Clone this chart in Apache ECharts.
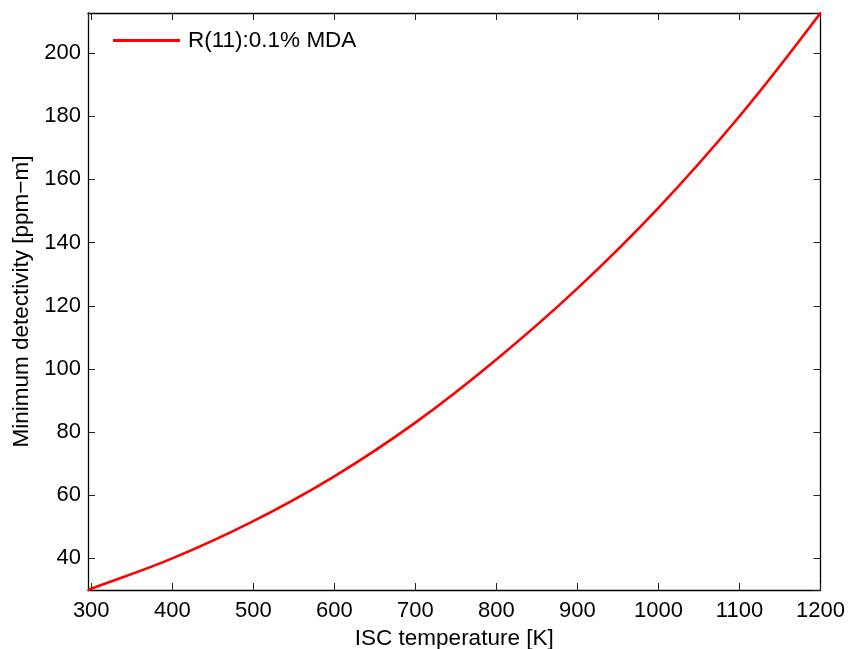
<!DOCTYPE html>
<html>
<head>
<meta charset="utf-8">
<script src="https://cdn.jsdelivr.net/npm/echarts@6/dist/echarts.min.js"></script>
<style>
html,body{margin:0;padding:0;background:#fff;}
#chart{width:849px;height:649px;}
</style>
</head>
<body>
<div id="chart"></div>
<script>
// Data
const temperatureK = [296, 300, 400, 500, 600, 700, 800, 900, 1000, 1100, 1200];
const detectivity = [30.0, 30.4, 40.0, 51.8, 66.0, 83.0, 103.0, 125.5, 151.0, 180.0, 212.7];
const seriesName = 'R(11):0.1% MDA';
const xName = 'ISC temperature [K]';
const yName = 'Minimum detectivity [ppm\u2212m]';
const xRange = [296, 1200];
const yRange = [30, 212.7];

const font = 'Liberation Sans, Arial, Helvetica, sans-serif';
const chart = echarts.init(document.getElementById('chart'), null, {renderer: 'canvas'});

const axisLine = {show: true, onZero: false, lineStyle: {color: '#000', width: 1.3}};
const tick = {show: true, inside: true, length: 7, lineStyle: {color: '#222', width: 1}};
const plain = v => String(Math.round(v));

chart.setOption({
  animation: false,
  backgroundColor: '#fff',
  grid: {left: 88, right: 28.5, top: 13, bottom: 59, containLabel: false, outerBoundsMode: 'none'},
  legend: {
    show: true,
    left: 113, top: 29, padding: 0,
    icon: 'rect', itemWidth: 67, itemHeight: 3, itemGap: 10,
    textStyle: {fontFamily: font, fontSize: 22.5, color: '#000', padding: [0, 0, 0, 3]},
    data: [seriesName]
  },
  xAxis: [{
    type: 'value', min: xRange[0], max: xRange[1], splitNumber: 9,
    name: xName, nameLocation: 'middle', nameGap: 30,
    nameTextStyle: {fontFamily: font, fontSize: 22.5, color: '#000'},
    axisLine: axisLine, axisTick: tick,
    axisLabel: {fontFamily: font, fontSize: 22, color: '#000', margin: 10, showMinLabel: false, formatter: plain},
    splitLine: {show: false}
  }, {
    type: 'value', position: 'top', min: xRange[0], max: xRange[1], splitNumber: 9,
    axisLine: axisLine, axisTick: tick, axisLabel: {show: false}, splitLine: {show: false}
  }],
  yAxis: [{
    type: 'value', min: yRange[0], max: yRange[1], splitNumber: 9,
    name: yName, nameLocation: 'middle', nameGap: 55,
    nameTextStyle: {fontFamily: font, fontSize: 22.5, color: '#000'},
    axisLine: axisLine, axisTick: tick,
    axisLabel: {fontFamily: font, fontSize: 22, color: '#000', margin: 7, showMinLabel: false, showMaxLabel: false, formatter: plain},
    splitLine: {show: false}
  }, {
    type: 'value', position: 'right', min: yRange[0], max: yRange[1], splitNumber: 9,
    axisLine: axisLine, axisTick: tick, axisLabel: {show: false}, splitLine: {show: false}
  }],
  series: [{
    name: seriesName,
    type: 'line',
    xAxisIndex: 0, yAxisIndex: 0,
    data: temperatureK.map((t, i) => [t, detectivity[i]]),
    smooth: 0.4,
    showSymbol: false,
    symbol: 'none',
    lineStyle: {color: '#ff0000', width: 2.6},
    itemStyle: {color: '#ff0000'},
    clip: false
  }]
});
</script>
</body>
</html>
